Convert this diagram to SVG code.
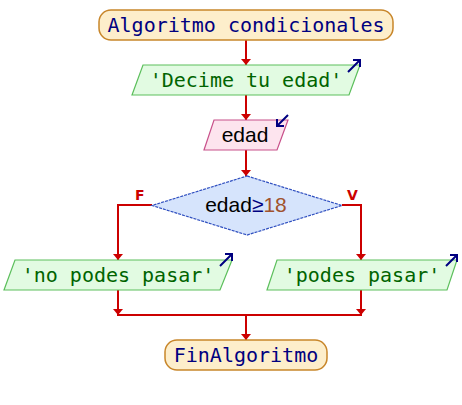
<svg xmlns="http://www.w3.org/2000/svg" width="462" height="405" viewBox="0 0 462 405">
<defs>
<marker id="ahd" markerWidth="10" markerHeight="6" refX="5" refY="6" orient="0" markerUnits="userSpaceOnUse" viewBox="0 0 10 6">
<path d="M0,0 L10,0 L5,6 Z" fill="#cc0000"/>
</marker>
</defs>
<style>
.term{fill:#fdeecb;stroke:#c8862a;stroke-width:1.5}
.out{fill:#e2fbe2;stroke:#5cbf5c;stroke-width:1.2}
.inp{fill:#fde4ee;stroke:#c8508a;stroke-width:1.2}
.dec{fill:#d6e4fc;stroke:#3050c0;stroke-width:1.2;stroke-dasharray:3,1}
.mono{font-family:"DejaVu Sans Mono","Liberation Mono",monospace;font-size:20px}
.sans{font-family:"Liberation Sans",Arial,sans-serif;font-size:21px}
.kw{fill:#000080}
.str{fill:#006400}
.num{fill:#a0522d}
.lbl{font-family:"DejaVu Sans","Liberation Sans",sans-serif;font-size:14px;font-weight:bold;fill:#cc0000}
.edge{fill:none;stroke:#cc0000;stroke-width:2}
.icon{fill:none;stroke:#000080;stroke-width:2}
</style>
<g id="connectors">
<path class="edge" d="M246,40 V65" marker-end="url(#ahd)"/>
<path class="edge" d="M246,95 V120" marker-end="url(#ahd)"/>
<path class="edge" d="M246,150 V176" marker-end="url(#ahd)"/>
<path class="edge" d="M152,205 H118 V260" marker-end="url(#ahd)"/>
<path class="edge" d="M342,205 H361 V260" marker-end="url(#ahd)"/>
<path class="edge" d="M118,290 V315" marker-end="url(#ahd)"/>
<path class="edge" d="M361,290 V315" marker-end="url(#ahd)"/>
<path class="edge" d="M117,315 H362"/>
<path class="edge" d="M246,315 V340" marker-end="url(#ahd)"/>
<text class="lbl" x="135" y="200">F</text>
<text class="lbl" x="347" y="200">V</text>
</g>
<g id="start">
<rect class="term" x="99" y="10" width="294" height="30" rx="12" ry="12"/>
<text class="mono kw" x="246" y="32" text-anchor="middle">Algoritmo condicionales</text>
</g>
<g id="out1">
<polygon class="out" points="143,65 360,65 349,95 132,95"/>
<text class="mono str" x="246" y="87" text-anchor="middle">'Decime tu edad'</text>
<path class="icon" d="M348,72 L360,60 M353,60 H360 V67"/>
</g>
<g id="in1">
<polygon class="inp" points="214,120 288,120 277,150 204,150"/>
<text class="sans" x="245" y="142" text-anchor="middle">edad</text>
<path class="icon" d="M288,115 L277,126 M277,119 V126 H284"/>
</g>
<g id="cond">
<polygon class="dec" points="247,176 342,205.5 247,235 152,205.5"/>
<text class="sans" x="246" y="212" text-anchor="middle"><tspan>edad</tspan><tspan class="kw">≥</tspan><tspan class="num">18</tspan></text>
</g>
<g id="outF">
<polygon class="out" points="15,260 232,260 220,290 4,290"/>
<text class="mono str" x="118" y="282" text-anchor="middle">'no podes pasar'</text>
<path class="icon" d="M220,266 L232,254 M225,254 H232 V261"/>
</g>
<g id="outV">
<polygon class="out" points="277,260 457,260 447,290 267,290"/>
<text class="mono str" x="362" y="282" text-anchor="middle">'podes pasar'</text>
<path class="icon" d="M446,266 L457,255 M450,255 H457 V262"/>
</g>
<g id="end">
<rect class="term" x="165" y="340" width="162" height="30" rx="12" ry="12"/>
<text class="mono kw" x="246" y="362" text-anchor="middle">FinAlgoritmo</text>
</g>
</svg>
